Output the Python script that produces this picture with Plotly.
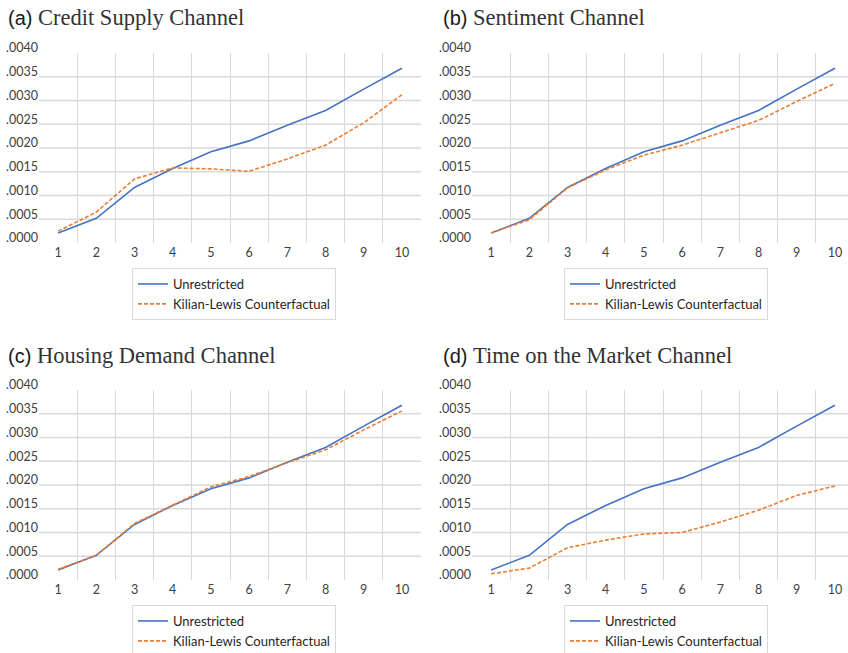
import plotly.graph_objects as go

horizons = [1, 2, 3, 4, 5, 6, 7, 8, 9, 10]
unrestricted = [0.00021, 0.00052, 0.00117, 0.00157, 0.00192, 0.00215, 0.00248, 0.00279, 0.00324, 0.00368]
credit_cf = [0.00025, 0.00065, 0.00135, 0.00158, 0.00156, 0.00151, 0.00177, 0.00206, 0.00253, 0.00312]
sentiment_cf = [0.00021, 0.00049, 0.00116, 0.00154, 0.00185, 0.00206, 0.00232, 0.00258, 0.00298, 0.00336]
housing_cf = [0.000225, 0.00052, 0.00119, 0.00157, 0.00196, 0.00218, 0.00247, 0.00274, 0.00316, 0.00356]
tom_cf = [0.00013, 0.00025, 0.00068, 0.00084, 0.00097, 0.00100, 0.00122, 0.00147, 0.00178, 0.00198]

panel_letters = ["(a)", "(b)", "(c)", "(d)"]
panel_names = ["Credit Supply Channel", "Sentiment Channel", "Housing Demand Channel", "Time on the Market Channel"]
counterfactuals = [credit_cf, sentiment_cf, housing_cf, tom_cf]

y_tickvals = [0.0, 0.0005, 0.0010, 0.0015, 0.0020, 0.0025, 0.0030, 0.0035, 0.0040]
y_ticktext = [".0000", ".0005", ".0010", ".0015", ".0020", ".0025", ".0030", ".0035", ".0040"]
y_gridvals = [0.0005, 0.0010, 0.0015, 0.0020, 0.0025, 0.0030, 0.0035]
x_boundaries = [1.5, 2.5, 3.5, 4.5, 5.5, 6.5, 7.5, 8.5, 9.5]

W, H = 848, 653
BLUE = "#4472C4"
ORANGE = "#ED7D31"
GRID = "#d9d9d9"
TICKFONT = dict(family="Lato", size=12.5, color="#404040")

# pixel layout of plot areas: (left, right, top, bottom)
areas = [(39, 421, 53, 243), (472, 848, 53, 243), (39, 421, 390, 580), (472, 848, 390, 580)]
band = 38.2
legend_pos = [(132, 268), (564, 268), (132, 605), (564, 605)]
title_pos = [(6, 17), (441, 17), (6, 355), (441, 355)]

fig = go.Figure()
annotations = []
shapes = []
for i in range(4):
    n = i + 1
    xa = "x" if n == 1 else f"x{n}"
    ya = "y" if n == 1 else f"y{n}"
    lg = "legend" if n == 1 else f"legend{n}"
    fig.add_trace(go.Scatter(x=horizons, y=unrestricted, mode="lines", name="Unrestricted",
                             line=dict(color=BLUE, width=1.6), xaxis=xa, yaxis=ya, legend=lg))
    fig.add_trace(go.Scatter(x=horizons, y=counterfactuals[i], mode="lines",
                             name="Kilian-Lewis Counterfactual",
                             line=dict(color=ORANGE, width=1.6, dash="4px,2px"),
                             xaxis=xa, yaxis=ya, legend=lg))
    l, r, t, b = areas[i]
    xmax = 0.5 + (r - l) / band
    xkey = "xaxis" if n == 1 else f"xaxis{n}"
    ykey = "yaxis" if n == 1 else f"yaxis{n}"
    fig.layout[xkey] = dict(domain=[l / W, r / W], anchor=ya, range=[0.5, xmax],
                            tickvals=horizons, showgrid=False, zeroline=False, showline=False,
                            ticks="", tickfont=TICKFONT, fixedrange=True,
                            minor=dict(tickmode="array", tickvals=x_boundaries, showgrid=True,
                                       gridcolor=GRID, gridwidth=1.3, ticks=""))
    fig.layout[ykey] = dict(domain=[1 - b / H, 1 - t / H], anchor=xa, range=[0, 0.004],
                            tickvals=y_tickvals, ticktext=y_ticktext, showgrid=False,
                            zeroline=False, showline=False,
                            ticks="", tickfont=TICKFONT, ticklabelshift=-5, fixedrange=True)
    # interior horizontal gridlines (none at the top and bottom edges)
    for gv in y_gridvals:
        shapes.append(dict(type="line", xref=f"{xa} domain", yref=ya, x0=0, x1=1, y0=gv, y1=gv,
                           line=dict(color=GRID, width=1.3), layer="below"))
    lx, ly = legend_pos[i]
    fig.layout[lg] = dict(x=lx / W, y=1 - ly / H, xanchor="left", yanchor="top",
                          bgcolor="white", bordercolor=GRID, borderwidth=1,
                          font=dict(family="Lato", size=13, color="#262626"),
                          tracegroupgap=0)
    tx, ty = title_pos[i]
    annotations.append(dict(
        x=tx / W, y=1 - ty / H, xref="paper", yref="paper", xanchor="left", yanchor="middle",
        showarrow=False,
        text=f"{panel_letters[i]} <span style='font-family:Liberation Serif;font-size:22.5px;fill:#333333'>{panel_names[i]}</span>",
        font=dict(family="Liberation Sans", size=20, color="#1a1a1a")))

fig.update_layout(width=W, height=H, margin=dict(l=0, r=0, t=0, b=0, autoexpand=False),
                  paper_bgcolor="white", plot_bgcolor="white", annotations=annotations,
                  shapes=shapes, showlegend=True)

fig.write_html("out.html", config={"displayModeBar": False},
               post_script="document.body.style.margin='0';document.body.style.overflow='hidden';")
